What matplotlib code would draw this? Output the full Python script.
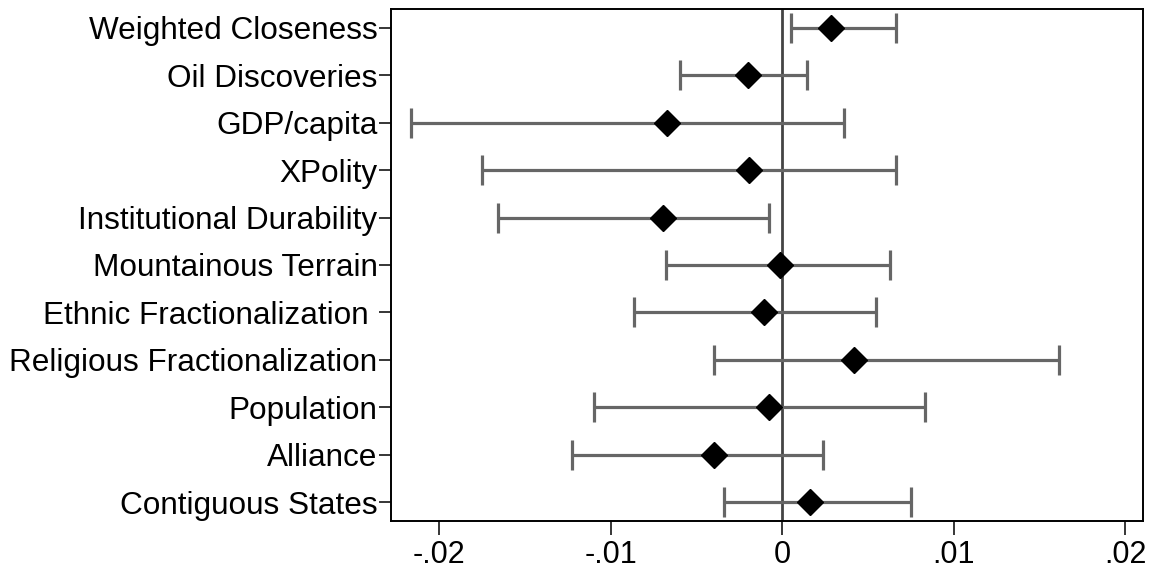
import numpy as np
import matplotlib.pyplot as plt

plt.rcParams["font.family"] = ["Liberation Sans", "DejaVu Sans"]

labels = [
    "Weighted Closeness",
    "Oil Discoveries",
    "GDP/capita",
    "XPolity",
    "Institutional Durability",
    "Mountainous Terrain",
    "Ethnic Fractionalization ",
    "Religious Fractionalization",
    "Population",
    "Alliance",
    "Contiguous States",
]
coef = [0.00286, -0.00202, -0.00674, -0.00192, -0.00696, -0.00012,
        -0.00105, 0.00418, -0.00076, -0.00396, 0.00160]
lower = [0.00051, -0.00597, -0.02163, -0.01749, -0.01656, -0.00678,
         -0.00867, -0.00398, -0.01100, -0.01226, -0.00338]
upper = [0.00665, 0.00146, 0.00360, 0.00665, -0.00079, 0.00630,
         0.00548, 0.01611, 0.00832, 0.00235, 0.00750]
xticks = [-0.02, -0.01, 0, 0.01, 0.02]
xticklabels = ["-.02", "-.01", "0", ".01", ".02"]

coef = np.array(coef)
lower = np.array(lower)
upper = np.array(upper)
ypos = np.arange(len(labels), 0, -1)

fig = plt.figure(figsize=(11.51, 5.73), dpi=100)
ax = fig.add_axes([0.340, 0.0908, 0.6533, 0.8935])

ax.axvline(0, color="#444444", lw=2.0, zorder=1)
ax.errorbar(coef, ypos, xerr=[coef - lower, upper - coef], fmt="none",
            ecolor="#666666", elinewidth=2.3, capsize=11, capthick=2.3, zorder=2)
ax.plot(coef, ypos, "D", color="black", markersize=13, zorder=3)

ax.set_xlim(-0.0228, 0.02105)
ax.set_ylim(0.6, len(labels) + 0.4)
ax.set_yticks(ypos)
ax.set_yticklabels(labels)
ax.set_xticks(xticks)
ax.set_xticklabels(xticklabels)
ax.tick_params(axis="y", labelsize=22.7, length=9, width=1.1, pad=1)
ax.tick_params(axis="x", labelsize=22, length=10, width=1.1, pad=4)
for sp in ax.spines.values():
    sp.set_linewidth(1.4)

plt.savefig("out.png")
